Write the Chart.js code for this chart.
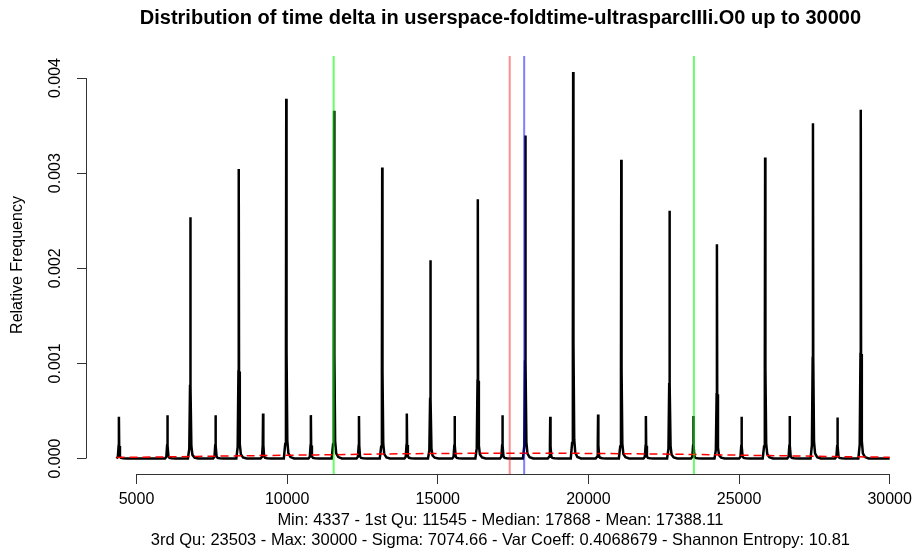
<!DOCTYPE html>
<html>
<head>
  <meta charset="UTF-8">
  <title>Distribution of time delta</title>
  <script src="https://cdn.jsdelivr.net/npm/chart.js@4"></script>
  <style>
    body {
      margin: 0;
      background: white;
    }
    canvas {
      display: block;
    }
  </style>
</head>
<body>
  <canvas id="deltaChart" width="918" height="556"></canvas>

  <script>
    // peaks of the density curve (time delta, relative frequency)
    const peakX = [4415, 6025, 6786, 7622, 8393, 9200, 9970, 10787, 11558, 12384,
                   13155, 13972, 14755, 15559, 16329, 17146, 17907, 18733, 19494, 20321,
                   21091, 21908, 22692, 23485, 24266, 25083, 25866, 26680, 27454, 28267, 29041];
    const peakY = [0.000438, 0.000456, 0.002537, 0.000456, 0.003045, 0.000474, 0.003782, 0.000456, 0.003656, 0.000448,
                   0.003059, 0.000474, 0.002084, 0.000448, 0.002726, 0.000456, 0.003396, 0.000438, 0.004063, 0.000463,
                   0.003140, 0.000448, 0.002606, 0.000448, 0.002253, 0.000438, 0.003164, 0.000448, 0.003526, 0.000432, 0.003666];

    // red dashed reference curve
    const normalX = [4337, 6000, 8000, 10000, 12000, 14000, 16000, 17400, 19000, 21000, 23000, 25000, 27000, 30000];
    const normalY = [0.000011, 0.000017, 0.000026, 0.000034, 0.000042, 0.000050, 0.000054, 0.000056,
                     0.000055, 0.000051, 0.000044, 0.000035, 0.000026, 0.000013];

    const dataMin = 4337;
    const dataMax = 30000;

    // vertical markers: 1st Qu, Mean, Median, 3rd Qu
    const markerX = [11545, 17388.11, 17868, 23503];
    const markerColors = ['rgba(0,255,0,0.6)', 'rgba(255,0,0,0.45)', 'rgba(0,0,255,0.5)', 'rgba(0,255,0,0.6)'];

    const xTicks = [5000, 10000, 15000, 20000, 25000, 30000];
    const yTicks = [0, 0.001, 0.002, 0.003, 0.004];

    const titleText = 'Distribution of time delta in userspace-foldtime-ultrasparcIIIi.O0 up to 30000';
    const statsLines = [
      'Min: 4337 - 1st Qu: 11545 - Median: 17868 - Mean: 17388.11',
      '3rd Qu: 23503 - Max: 30000 - Sigma: 7074.66 - Var Coeff: 0.4068679 - Shannon Entropy: 10.81'
    ];

    // plot window, runs to the right edge of the canvas
    const X_MIN = 3323, X_MAX = 30836;
    const Y_MIN = -0.000163, Y_MAX = 0.004232;

    // shape of one spike: offsets in time units, fraction of the peak height
    const shapeDx = [-80, -35, -10, 0, 10, 35, 70, 140, 260];
    const shapeFr = [0, 0.04, 0.3, 1, 0.3, 0.05, 0.015, 0.004, 0];

    const density = [{ x: dataMin, y: 0 }];
    peakX.forEach((px, i) => {
      shapeDx.forEach((dx, k) => {
        density.push({ x: px + dx, y: peakY[i] * shapeFr[k] });
      });
    });
    density.push({ x: dataMax, y: 0 });

    const normalPts = normalX.map((x, i) => ({ x: x, y: normalY[i] }));

    const markerSets = markerX.map((x, i) => ({
      data: [{ x: x, y: Y_MIN }, { x: x, y: Y_MAX }],
      borderColor: markerColors[i],
      borderWidth: 2,
      pointRadius: 0,
      order: 0
    }));

    const font = "'Liberation Sans', Arial, Helvetica, sans-serif";

    // R draws the axis line only between the first and last tick
    const rAxes = {
      id: 'rAxes',
      afterDraw(chart) {
        const { ctx, chartArea, scales } = chart;
        ctx.save();
        ctx.strokeStyle = '#333';
        ctx.lineWidth = 1;
        ctx.beginPath();
        const y0 = Math.round(chartArea.bottom) + 0.5;
        ctx.moveTo(scales.x.getPixelForValue(xTicks[0]), y0);
        ctx.lineTo(scales.x.getPixelForValue(xTicks[xTicks.length - 1]), y0);
        const x0 = Math.round(chartArea.left) + 0.5;
        ctx.moveTo(x0, scales.y.getPixelForValue(yTicks[0]));
        ctx.lineTo(x0, scales.y.getPixelForValue(yTicks[yTicks.length - 1]));
        ctx.stroke();
        ctx.restore();
      }
    };

    new Chart(document.getElementById('deltaChart'), {
      type: 'line',
      data: {
        datasets: [
          ...markerSets,
          {
            data: normalPts,
            borderColor: '#ff0000',
            borderWidth: 1.5,
            borderDash: [8, 5],
            pointRadius: 0,
            tension: 0.4,
            order: 1
          },
          {
            data: density,
            borderColor: '#000',
            borderWidth: 2.5,
            pointRadius: 0,
            tension: 0,
            order: 2
          }
        ]
      },
      options: {
        responsive: false,
        animation: false,
        layout: { padding: 0 },
        plugins: {
          legend: { display: false },
          tooltip: { enabled: false },
          title: {
            display: true,
            text: titleText,
            fullSize: false,
            color: '#000',
            font: { family: font, size: 20, weight: 'bold', lineHeight: 1.2 },
            padding: { top: 6, bottom: 26 }
          }
        },
        scales: {
          x: {
            type: 'linear',
            min: X_MIN,
            max: X_MAX,
            afterBuildTicks(scale) {
              scale.ticks = xTicks.map(v => ({ value: v }));
            },
            afterFit(scale) {
              scale.height = 82;
            },
            border: { display: false },
            grid: { drawOnChartArea: false, drawTicks: true, tickLength: 10, color: '#333' },
            ticks: {
              color: '#000',
              font: { family: font, size: 16 },
              padding: 6,
              maxRotation: 0,
              autoSkip: false,
              callback: v => String(v)
            },
            title: {
              display: true,
              text: statsLines,
              color: '#000',
              font: { family: font, size: 16.5, lineHeight: 1.25 },
              padding: { top: 0, bottom: 5 }
            }
          },
          y: {
            min: Y_MIN,
            max: Y_MAX,
            afterBuildTicks(scale) {
              scale.ticks = yTicks.map(v => ({ value: v }));
            },
            afterFit(scale) {
              scale.width = 86;
            },
            border: { display: false },
            grid: { drawOnChartArea: false, drawTicks: true, tickLength: 9, color: '#333' },
            ticks: {
              color: '#000',
              font: { family: font, size: 16 },
              padding: 1,
              minRotation: 90,
              maxRotation: 90,
              crossAlign: 'center',
              autoSkip: false,
              callback: v => v.toFixed(3)
            },
            title: {
              display: true,
              text: 'Relative Frequency',
              color: '#000',
              font: { family: font, size: 16 },
              padding: { top: 8, bottom: 0 }
            }
          }
        }
      },
      plugins: [rAxes]
    });
  </script>
</body>
</html>
